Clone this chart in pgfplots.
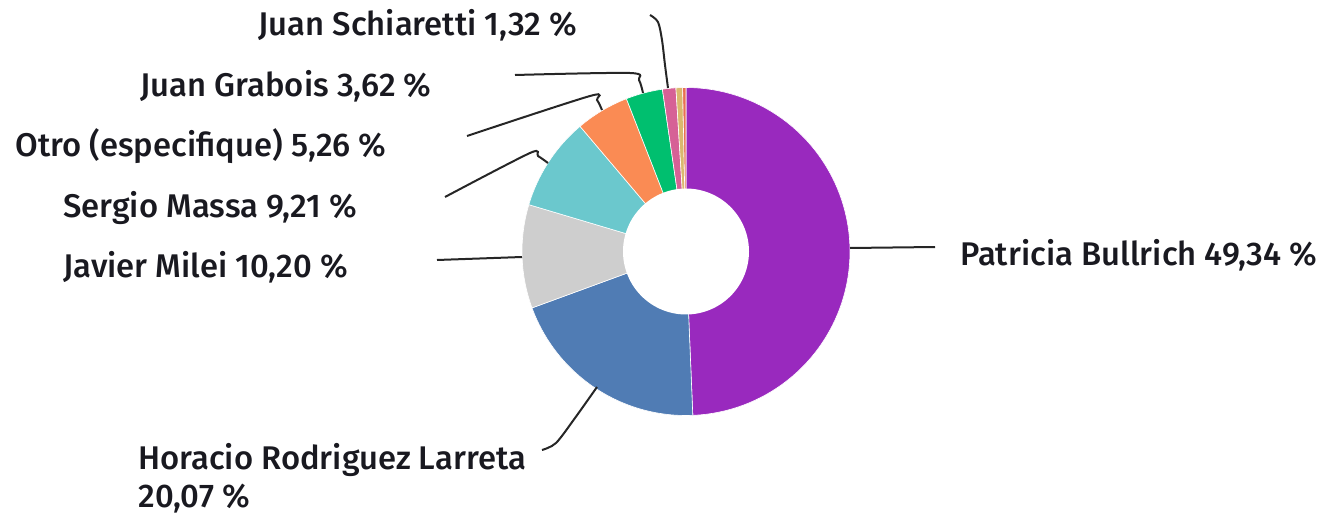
\documentclass[border=0pt]{standalone}
\usepackage{pgfplots}
\pgfplotsset{compat=1.18}
\usepackage{fontspec}
\setmainfont{Fira Sans}[UprightFont={* Medium}]
\definecolor{cpurple}{RGB}{153,41,190}
\definecolor{cblue}{RGB}{80,124,180}
\definecolor{cgray}{RGB}{206,206,206}
\definecolor{cteal}{RGB}{107,200,205}
\definecolor{corange}{RGB}{250,139,84}
\definecolor{cgreen}{RGB}{0,191,111}
\definecolor{cpink}{RGB}{214,97,150}
\definecolor{ctan}{RGB}{218,185,110}
\definecolor{ccoral}{RGB}{232,112,82}
\definecolor{ctext}{RGB}{25,25,32}
% slice: colour, cumulative share before, share (percent)
\newcommand{\slice}[3]{%
  \addplot[fill=#1, draw=white, line width=0.3pt, domain={90-3.6*(#2+#3)}:{90-3.6*(#2)}, samples=80, variable=\t]
    ({686+164*cos(\t)},{251.5-164*sin(\t)}) -- (axis cs:686,251.5) -- cycle;}
\begin{document}
\begin{tikzpicture}
\begin{axis}[x=0.5pt, y=0.5pt, xmin=0, xmax=1319, ymin=0, ymax=514, y dir=reverse,
  hide axis, clip=false, scale only axis]
\path (axis cs:0,0) rectangle (axis cs:1319,514);
\slice{cpurple}{0}{49.34}
\slice{cblue}{49.34}{20.07}
\slice{cgray}{69.41}{10.20}
\slice{cteal}{79.61}{9.21}
\slice{corange}{88.82}{5.26}
\slice{cgreen}{94.08}{3.62}
\slice{cpink}{97.70}{1.32}
\slice{ctan}{99.02}{0.65}
\slice{ccoral}{99.67}{0.33}
\addplot[fill=white, draw=none, domain=0:360, samples=120, variable=\t]
  ({686+63*cos(\t)},{251.5-63*sin(\t)}) -- cycle;
% leader lines
\addplot[black!85, line width=1pt, smooth] coordinates {(850,248) (935,247)};
\addplot[black!85, line width=1pt, smooth] coordinates {(437,260) (522,257)};
\addplot[black!85, line width=1pt, smooth] coordinates {(445,197) (530,153) (538,156) (548,163)};
\addplot[black!85, line width=1pt, smooth] coordinates {(467,136) (590,96) (597,100) (602,110)};
\addplot[black!85, line width=1pt, smooth] coordinates {(515,75) (630,73) (639,80) (643,93)};
\addplot[black!85, line width=1pt, smooth] coordinates {(650,15) (658,22) (662,40) (665,65) (668,88)};
\addplot[black!85, line width=1pt, smooth] coordinates {(542,450) (556,443) (575,418) (597,387)};
% labels
\begin{scope}[every node/.style={anchor=base west, inner sep=0pt, text=ctext, font=\fontsize{16.4}{19}\selectfont}]
\node at (axis cs:960,265) {Patricia Bullrich 49,34 \%};
\node at (axis cs:258,35) {Juan Schiaretti 1,32 \%};
\node at (axis cs:140,97) {Juan Grabois 3,62 \%};
\node at (axis cs:15,156) {Otro (especifique) 5,26 \%};
\node at (axis cs:63,217) {Sergio Massa 9,21 \%};
\node at (axis cs:63,277) {Javier Milei 10,20 \%};
\node at (axis cs:138,469) {Horacio Rodriguez Larreta};
\node at (axis cs:138,507) {20,07 \%};
\end{scope}
\end{axis}
\end{tikzpicture}
\end{document}
